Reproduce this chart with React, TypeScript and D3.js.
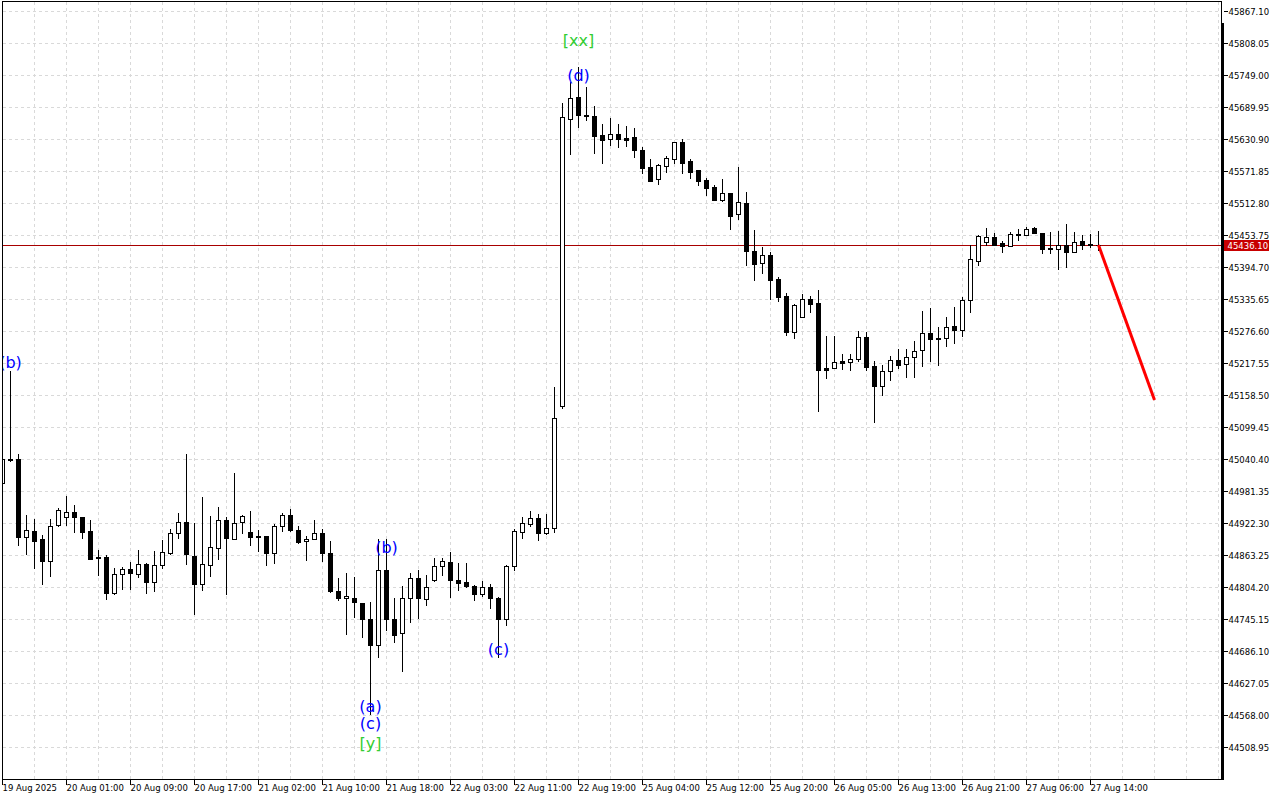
import React from "react";
import * as d3 from "d3";

// ---------- data (hourly bars) ----------
const timeLabels = [
  "19 Aug 2025", "20 Aug 01:00", "20 Aug 09:00", "20 Aug 17:00", "21 Aug 02:00",
  "21 Aug 10:00", "21 Aug 18:00", "22 Aug 03:00", "22 Aug 11:00", "22 Aug 19:00",
  "25 Aug 04:00", "25 Aug 12:00", "25 Aug 20:00", "26 Aug 05:00", "26 Aug 13:00",
  "26 Aug 21:00", "27 Aug 06:00", "27 Aug 14:00",
];

const priceTicks = [
  44508.95, 44568.0, 44627.05, 44686.1, 44745.15, 44804.2, 44863.25, 44922.3,
  44981.35, 45040.4, 45099.45, 45158.5, 45217.55, 45276.6, 45335.65, 45394.7,
  45453.75, 45512.8, 45571.85, 45630.9, 45689.95, 45749.0, 45808.05, 45867.1,
];

const opens = [
  44997.0, 45041.3, 45041.3, 44897.9, 44908.4, 44893.7, 44853.6, 44919.0, 44933.7, 44943.0,
  44934.3, 44908.4, 44860.5, 44860.5, 44794.6, 44828.5, 44838.3, 44828.5, 44847.0, 44814.9,
  44845.7, 44868.4, 44904.2, 44924.5, 44861.8, 44810.1, 44845.2, 44876.5, 44928.2, 44893.1,
  44924.5, 44906.1, 44899.2, 44898.7, 44867.3, 44917.1, 44937.4, 44909.7, 44889.4, 44893.1,
  44904.2, 44867.3, 44798.3, 44784.3, 44784.3, 44775.0, 44745.5, 44698.6, 44835.9, 44745.5,
  44720.8, 44784.3, 44821.2, 44782.4, 44817.5, 44843.3, 44850.7, 44817.5, 44813.8, 44806.4,
  44791.6, 44804.6, 44784.3, 44745.5, 44843.3, 44907.0, 44921.7, 44932.6, 44905.1, 44913.4,
  45139.3, 45669.4, 45708.8, 45675.5, 45673.7, 45639.2, 45631.3, 45640.5, 45633.1, 45634.9,
  45611.0, 45579.6, 45557.4, 45581.4, 45595.5, 45625.7, 45590.7, 45574.0, 45555.6, 45542.7,
  45519.8, 45531.6, 45492.8, 45513.1, 45424.6, 45402.4, 45417.2, 45372.9, 45342.1, 45276.2,
  45302.8, 45336.0, 45328.6, 45208.7, 45209.8, 45222.1, 45219.7, 45226.4, 45265.9, 45212.9,
  45176.6, 45203.1, 45223.4, 45216.1, 45229.0, 45241.9, 45273.3, 45264.6, 45264.0, 45286.2,
  45278.8, 45334.2, 45406.1, 45441.2, 45450.4, 45439.3, 45433.8, 45456.5, 45454.1, 45467.0,
  45457.8, 45430.7, 45428.3, 45435.6, 45422.7, 45443.0, 45438.0, 45437.1,
];

const highs = [
  45045.0, 45203.7, 45050.5, 44938.5, 44930.6, 44901.1, 44930.6, 44951.4, 44973.0, 44956.4,
  44935.0, 44928.2, 44872.8, 44864.2, 44839.6, 44841.5, 44851.2, 44873.4, 44848.8, 44871.5,
  44891.8, 44912.1, 44941.7, 45050.5, 44923.2, 44971.2, 44935.6, 44952.7, 44934.3, 45015.5,
  44937.4, 44945.4, 44910.3, 44899.0, 44920.8, 44941.7, 44948.5, 44917.1, 44898.7, 44928.2,
  44911.6, 44889.4, 44822.3, 44830.4, 44823.0, 44775.0, 44776.9, 44893.1, 44893.1, 44784.3,
  44806.4, 44830.4, 44835.9, 44826.7, 44858.1, 44858.1, 44869.2, 44848.8, 44848.8, 44808.3,
  44815.6, 44810.1, 44786.1, 44845.2, 44911.6, 44935.2, 44946.1, 44939.1, 44939.1, 45174.0,
  45697.7, 45737.0, 45765.2, 45727.9, 45692.7, 45658.9, 45670.0, 45659.5, 45655.8, 45651.5,
  45616.5, 45594.3, 45585.1, 45599.9, 45626.0, 45631.3, 45594.3, 45574.0, 45559.3, 45546.4,
  45557.4, 45532.7, 45579.6, 45533.4, 45463.9, 45432.0, 45422.7, 45376.6, 45347.1, 45327.3,
  45345.8, 45342.1, 45352.6, 45268.3, 45268.3, 45235.1, 45235.1, 45277.5, 45275.7, 45222.7,
  45214.2, 45231.4, 45243.7, 45243.7, 45259.1, 45314.4, 45319.4, 45284.9, 45302.8, 45321.2,
  45340.8, 45435.6, 45454.1, 45467.0, 45457.8, 45443.0, 45459.6, 45465.2, 45468.9, 45468.9,
  45458.0, 45459.6, 45461.5, 45474.4, 45459.6, 45454.1, 45455.9, 45462.0,
];

const lows = [
  44993.0, 45037.6, 44882.6, 44866.6, 44840.7, 44811.2, 44826.0, 44918.0, 44919.0, 44907.2,
  44896.1, 44856.0, 44827.8, 44782.4, 44792.8, 44802.0, 44800.8, 44824.1, 44793.5, 44798.3,
  44840.7, 44866.6, 44896.1, 44848.1, 44755.8, 44799.0, 44826.0, 44857.3, 44792.8, 44893.0,
  44904.2, 44882.6, 44871.5, 44846.3, 44850.0, 44907.9, 44909.0, 44885.8, 44854.4, 44893.0,
  44853.6, 44796.4, 44781.7, 44718.9, 44750.3, 44713.4, 44570.8, 44675.9, 44725.8, 44704.2,
  44650.7, 44741.1, 44748.5, 44772.4, 44817.0, 44826.7, 44786.1, 44799.0, 44806.0, 44780.6,
  44787.9, 44766.9, 44675.4, 44735.5, 44835.9, 44895.5, 44917.3, 44892.2, 44903.8, 44907.0,
  45136.2, 45604.7, 45654.7, 45667.6, 45606.5, 45588.1, 45621.3, 45617.6, 45619.4, 45599.1,
  45569.6, 45554.5, 45549.3, 45571.5, 45587.0, 45569.6, 45560.4, 45547.5, 45529.0, 45519.5,
  45517.9, 45466.3, 45483.6, 45399.9, 45372.2, 45385.1, 45337.1, 45333.4, 45270.7, 45265.1,
  45302.5, 45313.1, 45130.4, 45191.3, 45209.5, 45207.9, 45206.1, 45222.7, 45206.1, 45110.1,
  45160.0, 45187.6, 45209.8, 45193.2, 45193.2, 45213.5, 45222.7, 45215.3, 45250.4, 45254.8,
  45268.8, 45312.0, 45398.7, 45435.6, 45436.5, 45423.8, 45433.5, 45444.9, 45454.0, 45457.5,
  45422.0, 45420.9, 45392.5, 45396.2, 45422.5, 45429.4, 45432.0, 45427.0,
];

const closes = [
  45041.3, 45039.5, 44897.4, 44909.7, 44890.5, 44853.6, 44917.1, 44946.6, 44943.0, 44933.7,
  44907.2, 44856.8, 44858.6, 44794.6, 44828.5, 44838.3, 44830.4, 44847.0, 44814.9, 44845.2,
  44869.2, 44904.2, 44924.5, 44865.4, 44810.1, 44847.0, 44878.4, 44928.2, 44895.0, 44922.7,
  44935.6, 44897.9, 44897.9, 44868.4, 44917.1, 44937.4, 44909.7, 44887.6, 44893.1, 44904.2,
  44868.4, 44798.3, 44785.4, 44787.9, 44776.9, 44745.5, 44698.6, 44835.9, 44745.5, 44717.1,
  44784.3, 44821.2, 44784.3, 44804.6, 44843.3, 44852.5, 44817.5, 44811.9, 44806.4, 44791.6,
  44804.6, 44784.3, 44745.5, 44843.3, 44907.9, 44923.0, 44932.6, 44905.1, 44913.4, 45117.5,
  45671.5, 45706.7, 45676.6, 45673.7, 45638.1, 45630.5, 45640.5, 45632.4, 45630.5, 45611.0,
  45578.8, 45554.9, 45583.3, 45596.2, 45625.7, 45588.1, 45571.5, 45554.9, 45541.9, 45519.8,
  45531.6, 45490.3, 45515.0, 45425.7, 45401.7, 45417.2, 45372.2, 45340.8, 45276.2, 45324.9,
  45336.0, 45327.9, 45206.1, 45206.1, 45219.7, 45219.0, 45225.3, 45265.9, 45211.6, 45176.6,
  45203.7, 45223.4, 45215.3, 45229.5, 45240.0, 45273.3, 45262.2, 45262.2, 45284.3, 45278.8,
  45334.2, 45409.8, 45452.3, 45450.4, 45436.8, 45433.8, 45455.9, 45455.2, 45465.2, 45457.8,
  45429.4, 45429.4, 45435.6, 45423.8, 45441.2, 45436.8, 45436.8, 45436.1,
];

const currentPrice = 45436.1;

const forecastBars = [137, 144];
const forecastPrices = [45436.1, 45150.0];

const annotText = ["(b)", "(a)", "(c)", "[y]", "(b)", "(c)", "[xx]", "(d)"];
const annotBar = [1, 46, 46, 46, 48, 62, 72, 72];
const annotPrice = [45218.5, 44585.5, 44554.1, 44517.2, 44877.1, 44690.7, 45814.5, 45748.1];

// ---------- component ----------
export default function App() {
  const x = d3.scaleLinear().domain([0, 1]).range([2.5, 10.5]);
  const y = d3.scaleLinear().domain([44508.95, 45867.1]).range([747.5, 11.5]);

  const plotLeft = 3;
  const plotRight = 1221;
  const plotTop = 2;
  const plotBottom = 779;

  const candles = opens.map((o, i) => ({ i, o, h: highs[i], l: lows[i], c: closes[i] }));

  const vGrid = d3.range(1, 39).map((j) => x(j * 4));
  const forecastLine = d3
    .line<number>()
    .x((_, i) => x(forecastBars[i]))
    .y((d) => y(d))(forecastPrices);

  const axisFont = "'DejaVu Sans', sans-serif";
  const curY = Math.round(y(currentPrice)) + 0.5;

  return (
    <svg
      width={1280}
      height={800}
      style={{ position: "fixed", left: 0, top: 0, background: "#ffffff" }}
    >
      <defs>
        <clipPath id="plot">
          <rect x={plotLeft} y={plotTop} width={plotRight - plotLeft} height={plotBottom - plotTop} />
        </clipPath>
      </defs>
      <rect x={0} y={0} width={1280} height={800} fill="#ffffff" />

      {/* grid */}
      <g stroke="#d9d9d9" strokeWidth={1} strokeDasharray="3,3" shapeRendering="crispEdges">
        {priceTicks.map((p) => (
          <line key={"h" + p} x1={plotLeft} x2={plotRight} y1={Math.floor(y(p)) + 0.5} y2={Math.floor(y(p)) + 0.5} />
        ))}
        {vGrid.map((gx) => (
          <line key={"v" + gx} x1={gx} x2={gx} y1={plotTop} y2={plotBottom} />
        ))}
      </g>

      <g clipPath="url(#plot)">
        {/* current price line */}
        <line x1={plotLeft} x2={plotRight} y1={curY} y2={curY} stroke="#a80000" strokeWidth={1} shapeRendering="crispEdges" />

        {/* candles */}
        <g shapeRendering="crispEdges">
          {candles.map((d) => {
            const col = Math.round(x(d.i) - 0.5);
            const yh = Math.round(y(d.h));
            const yl = Math.round(y(d.l));
            const yt = Math.round(y(Math.max(d.o, d.c)));
            const yb = Math.round(y(Math.min(d.o, d.c)));
            const bull = d.c > d.o;
            return (
              <g key={d.i}>
                <rect x={col} y={yh} width={1} height={yl - yh + 1} fill="#000" />
                {bull ? (
                  <rect x={col - 1.5} y={yt + 0.5} width={4} height={Math.max(yb - yt, 1)} fill="#fff" stroke="#000" strokeWidth={1} />
                ) : (
                  <rect x={col - 2} y={yt} width={5} height={yb - yt + 1} fill="#000" />
                )}
              </g>
            );
          })}
        </g>

        {/* wave labels */}
        {annotText.map((t, i) => (
          <text
            key={"a" + i}
            x={x(annotBar[i])}
            y={y(annotPrice[i])}
            textAnchor="middle"
            dominantBaseline="central"
            fontFamily="'DejaVu Sans', sans-serif"
            fontSize={16}
            fill={t.startsWith("[") ? "#32cd32" : "#0000ff"}
          >
            {t}
          </text>
        ))}

        {/* forecast */}
        <path d={forecastLine || ""} fill="none" stroke="#ff0000" strokeWidth={3} />
      </g>

      {/* frame */}
      <g shapeRendering="crispEdges" stroke="#000" fill="none">
        <rect x={2.5} y={1.5} width={1219} height={778} strokeWidth={1} />
        <line x1={1223} x2={1223} y1={23} y2={780} strokeWidth={2} />
      </g>

      {/* price axis */}
      <g fontFamily={axisFont} fontSize={8.5} fill="#000">
        {priceTicks.map((p) => {
          const ty = Math.floor(y(p)) + 0.5;
          return (
            <g key={"p" + p}>
              <line x1={1224} x2={1228} y1={ty} y2={ty} stroke="#000" shapeRendering="crispEdges" />
              <text x={1228.5} y={ty} dominantBaseline="central">
                {p.toFixed(2)}
              </text>
            </g>
          );
        })}
        <rect x={1224} y={240} width={45} height={11} fill="#c80000" />
        <text x={1227.5} y={245.5} dominantBaseline="central" fill="#ffffff">
          {currentPrice.toFixed(2)}
        </text>
      </g>

      {/* time axis */}
      <g fontFamily={axisFont} fontSize={8.5} fill="#000">
        {timeLabels.map((t, i) => {
          const tx = x(i * 8);
          return (
            <g key={"t" + i}>
              <line x1={tx} x2={tx} y1={780} y2={785} stroke="#000" shapeRendering="crispEdges" />
              <text x={tx} y={791}>
                {t}
              </text>
            </g>
          );
        })}
      </g>
    </svg>
  );
}
